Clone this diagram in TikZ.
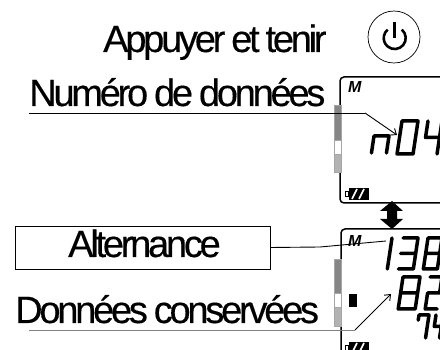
\documentclass[tikz,border=0pt]{standalone}
\usetikzlibrary{arrows.meta}
\usepackage{fontspec}
\setmainfont{Liberation Sans}
\newfontfamily\tightfont[LetterSpace=-8.5,WordSpace=0.8,FakeBold=0.35]{Liberation Sans}
\tikzset{
  bigtext/.style={font=\tightfont\fontsize{38}{38}\selectfont,inner sep=0pt,anchor=base west},
  modetext/.style={font=\bfseries\itshape\fontsize{16}{16}\selectfont,inner sep=0pt,anchor=base west},
  screen/.style={draw=black,line width=1.5pt,rounded corners=4pt},
  lcd/.style={draw=black,line width=3.5pt,line join=round,line cap=round},
  leader/.style={draw=black,line width=0.9pt},
  pointer/.style={leader,-{Straight Barb[length=5pt,width=8pt]}},
  memdark/.style={fill=gray!95,draw=gray!70,line width=0.6pt},
  memlight/.style={fill=gray!60,draw=gray!70,line width=0.6pt},
  memwhite/.style={fill=white,draw=gray!70,line width=0.6pt},
}
% x y w h segments
\newcommand{\lcddigit}[5]{
\begin{scope}[shift={(#1,#2)},x={(#3pt,0pt)},y={(-0.075*#4pt,-0.5*#4pt)}]
\draw[lcd] #5;
\end{scope}
}
\newcommand{\zero}{(0,0)--(1,0)--(1,2)--(0,2)--cycle}
\newcommand{\one}{(1,0)--(1,2)}
\newcommand{\two}{(0,0)--(1,0)--(1,1)--(0,1)--(0,2)--(1,2)}
\newcommand{\three}{(0,0)--(1,0)--(1,2)--(0,2) (0,1)--(1,1)}
\newcommand{\four}{(0,0)--(0,1)--(1,1) (1,0)--(1,2)}
\newcommand{\seven}{(0,0.45)--(0,0)--(1,0)--(1,2)}
\newcommand{\eight}{(0,0)--(1,0)--(1,2)--(0,2)--cycle (0,1)--(1,1)}
\newcommand{\lown}{(0,2)--(0,0)--(1,0)--(1,2)}
% x y = top left of the battery
\newcommand{\battery}[2]{
\begin{scope}[shift={(#1,#2)}]
\draw[line width=0.7pt] (0,3) rectangle (3,8);
\fill[black] (4,0) rectangle (24,12);
\draw[white,line width=1.6pt] (7,11) -- (12,1) (14,11) -- (19,1);
\end{scope}
}
\begin{document}
\begin{tikzpicture}[x=1pt,y=-1pt]
\clip (0,0) rectangle (440,350);
\fill[white] (0,0) rectangle (440,350);

\node[bigtext] (holdtext) at (103,52) {Appuyer et tenir};
\node[bigtext] (numtext) at (29,106) {Numéro de données};
\node[bigtext] (keeptext) at (15,323) {Données conservées};

% power button
\node[draw,circle,line width=0.7pt,minimum size=52pt,inner sep=0pt] (power) at (394,37) {};
\draw[line width=2.6pt] (401.8,29.6) arc[start angle=-50,end angle=230,radius=11];
\draw[line width=2.6pt] (394.7,22) -- (394.7,38);

% top screen
\draw[screen] (445,77) -- (340,77) -- (340,203) -- (445,203);
\fill[memdark] (334,105) rectangle (341,140);
\fill[memwhite] (334,140) rectangle (341,154);
\fill[memlight] (334,154) rectangle (341,172);
\draw[memwhite,fill=none] (334,140) rectangle (341,154);
\node[modetext] (topmode) at (348,93) {M};
\lcddigit{374}{136}{15}{17}{\lown}
\lcddigit{402}{121}{16}{33}{\zero}
\lcddigit{428}{121}{14}{33}{\four}
\battery{345}{188}

% double arrow
\fill[black] (392,201) -- (403,211) -- (397,211) -- (397,219) -- (403,219) -- (392,229) -- (380,219) -- (387,219) -- (387,211) -- (380,211) -- cycle;

% bottom screen
\draw[screen] (445,229) -- (341,229) -- (341,360);
\fill[memdark] (334,259) rectangle (341,293);
\fill[memwhite] (334,293) rectangle (341,307);
\fill[memlight] (334,307) rectangle (341,326);
\draw[memwhite,fill=none] (334,293) rectangle (341,307);
\fill[black] (349,294) rectangle (357,307);
\node[modetext] (botmode) at (348,247) {M};
\lcddigit{372}{238}{20}{31}{\one}
\lcddigit{403}{238}{15}{31}{\three}
\lcddigit{428}{238}{14}{31}{\eight}
\lcddigit{403}{277}{17}{32}{\eight}
\lcddigit{430}{277}{12}{32}{\two}
\lcddigit{419}{315}{10}{23}{\seven}
\lcddigit{436}{315}{7}{23}{\four}
\battery{345}{342}

\node[draw=black,line width=0.9pt,inner sep=0pt,minimum width=255pt,minimum height=43pt] (altbox) at (142.5,247.5) {};
\node[bigtext] (alttext) at (68,257) {Alternance};

% leaders
\coordinate (numstart) at (29,113);
\coordinate (numbend) at (365,113);
\coordinate (numend) at (397,135);
\coordinate (altbend) at (320,247);
\coordinate (altend) at (386,241);
\coordinate (keepstart) at (29,330);
\coordinate (keepbend) at (355,330);
\coordinate (keepend) at (391,294);
\draw[leader] (numstart) -- (numbend);
\draw[pointer] (numbend) -- (numend);
\draw[leader] (altbox.east) -- (altbend) -- (altend);
\draw[leader,draw=gray] (keepstart) -- (keepbend);
\draw[pointer] (keepbend) -- (keepend);
\end{tikzpicture}
\end{document}
